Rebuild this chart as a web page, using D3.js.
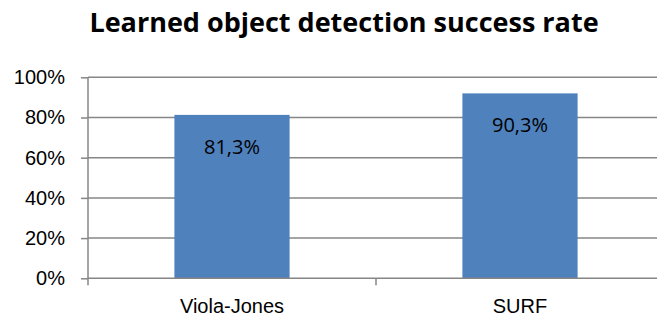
<!DOCTYPE html>
<html lang="en">
<head>
<meta charset="UTF-8">
<script src="https://d3js.org/d3.v7.min.js"></script>
<style>
  body { margin: 0; background: #fff; }
  svg { display: block; font-family: "Open Sans", sans-serif; }
  .grid line { stroke: #868686; stroke-width: 1.5; }
  .axis path, .axis line { stroke: #868686; stroke-width: 1.5; }
  .axis text { font-size: 20px; fill: #000; }
</style>
</head>
<body>
<svg id="chart"></svg>
<script>
    // chart data
    const categories = ["Viola-Jones", "SURF"];
    const values = [0.813, 0.92];          // bar heights as drawn
    const valueLabels = ["81,3%", "90,3%"];
    const yTicks = [0, 0.2, 0.4, 0.6, 0.8, 1.0];
    const yTickLabels = ["0%", "20%", "40%", "60%", "80%", "100%"];
    const title = "Learned object detection success rate";

    const svgWidth = 657, svgHeight = 322;
    const margin = { top: 77.3, right: -7, bottom: 43.7, left: 88 };
    const width = svgWidth - margin.left - margin.right;
    const height = svgHeight - margin.top - margin.bottom;

    const svg = d3.select("#chart")
        .attr("width", svgWidth)
        .attr("height", svgHeight);

    svg.append("text")
        .attr("x", 344)
        .attr("y", 31.5)
        .attr("text-anchor", "middle")
        .attr("font-size", 27)
        .attr("font-weight", "bold")
        .text(title);

    const chart = svg.append("g")
        .attr("transform", `translate(${margin.left},${margin.top})`);

    const x = d3.scaleBand()
        .domain(categories)
        .range([0, width])
        .paddingInner(0.6)
        .paddingOuter(0.3);

    const xBands = d3.scaleBand().domain(categories).range([0, width]);

    const y = d3.scaleLinear()
        .domain([0, 1])
        .range([height, 0]);

    // gridlines
    chart.append("g")
        .attr("class", "grid")
        .selectAll("line")
        .data(yTicks.slice(1))
        .enter().append("line")
        .attr("x1", 0)
        .attr("x2", width)
        .attr("y1", d => y(d))
        .attr("y2", d => y(d));

    // bars
    chart.selectAll(".bar")
        .data(values)
        .enter().append("rect")
        .attr("class", "bar")
        .attr("x", (d, i) => x(categories[i]))
        .attr("y", d => y(d))
        .attr("width", x.bandwidth())
        .attr("height", d => height - y(d))
        .attr("fill", "#4f81bd");

    // value labels
    chart.selectAll(".label")
        .data(values)
        .enter().append("text")
        .attr("class", "label")
        .attr("x", (d, i) => x(categories[i]) + x.bandwidth() / 2)
        .attr("y", d => y(d) + 39)
        .attr("text-anchor", "middle")
        .attr("font-size", 20)
        .text((d, i) => valueLabels[i]);

    // y axis
    chart.append("g")
        .attr("class", "axis")
        .call(d3.axisLeft(y)
            .tickValues(yTicks)
            .tickFormat((d, i) => yTickLabels[i])
            .tickSize(7)
            .tickSizeOuter(0)
            .tickPadding(16))
        .call(g => g.select(".domain").attr("d", `M0,0V${height + 7}`));

    // x axis with ticks between categories
    const xAxis = chart.append("g")
        .attr("class", "axis")
        .attr("transform", `translate(0,${height})`)
        .call(d3.axisBottom(x).tickSize(0).tickSizeOuter(0).tickPadding(21));
    xAxis.select(".domain").attr("d", `M0,0H${width}`);
    xAxis.selectAll(".tick text").attr("dy", "0.71em");

    chart.append("g")
        .attr("class", "axis")
        .attr("transform", `translate(0,${height})`)
        .selectAll("line")
        .data(categories.slice(1))
        .enter().append("line")
        .attr("x1", d => xBands(d))
        .attr("x2", d => xBands(d))
        .attr("y1", 0)
        .attr("y2", 7);
</script>
</body>
</html>
